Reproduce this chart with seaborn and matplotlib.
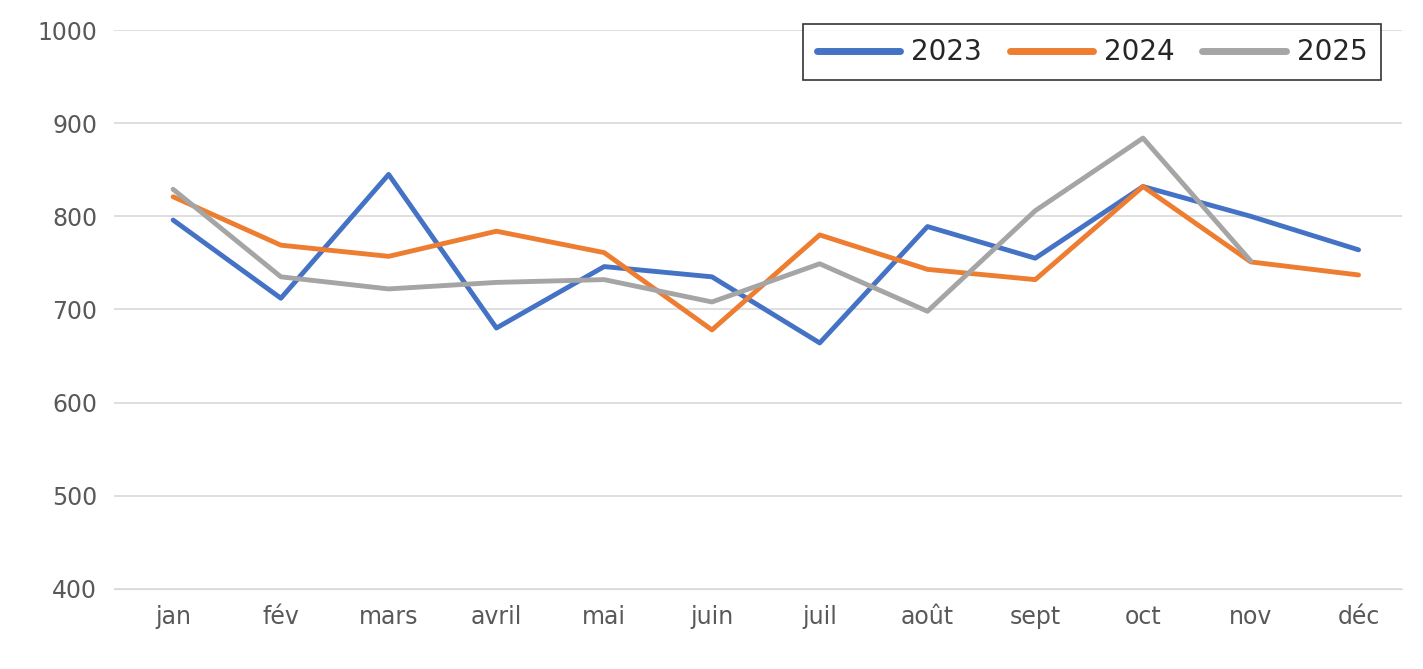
import matplotlib
matplotlib.use("Agg")
import matplotlib.pyplot as plt
import seaborn as sns
import pandas as pd

# ============================================================
# DATA
# ============================================================

months = ["jan", "fév", "mars", "avril", "mai", "juin",
          "juil", "août", "sept", "oct", "nov", "déc"]

v2023 = [796, 712, 845, 680, 746, 735, 664, 789, 755, 832, 800, 764]
v2024 = [821, 769, 757, 784, 761, 678, 780, 743, 732, 832, 751, 737]
v2025 = [829, 735, 722, 729, 732, 708, 749, 698, 806, 884, 752, None]

years = ["2023", "2024", "2025"]
colors = ["#4472C4", "#ED7D31", "#A5A5A5"]

rows = []
for year, vals in zip(years, [v2023, v2024, v2025]):
    for i, v in enumerate(vals):
        if v is not None:
            rows.append({"month": i, "value": v, "year": year})
df = pd.DataFrame(rows)

# ============================================================
# PLOT
# ============================================================

sns.set_style("white")
plt.rcParams["font.family"] = ["DejaVu Sans"]

fig, ax = plt.subplots(figsize=(14.23, 6.69), dpi=100)
fig.subplots_adjust(left=0.08, right=0.985, top=0.955, bottom=0.12)

sns.lineplot(data=df, x="month", y="value", hue="year",
             palette=colors, linewidth=3.5, ax=ax)

ax.set_ylim(400, 1000)
ax.set_yticks(range(400, 1001, 100))
ax.set_xlim(-0.55, 11.4)
ax.set_xticks(range(12))
ax.set_xticklabels(months)
ax.tick_params(axis="both", labelsize=17, colors="#595959", length=0, pad=12)
ax.grid(axis="y", color="#D9D9D9", linewidth=1.2)
ax.set_xlabel("")
ax.set_ylabel("")
for s in ax.spines.values():
    s.set_visible(False)
ax.spines["bottom"].set_visible(True)
ax.spines["bottom"].set_color("#D9D9D9")

leg = ax.legend(loc="upper right", ncol=3, fontsize=20, frameon=True,
                fancybox=False, edgecolor="black", handlelength=3.0,
                handletextpad=0.4, columnspacing=1.0, borderpad=0.5,
                bbox_to_anchor=(0.995, 1.035))
leg.get_frame().set_linewidth(1.2)
for line in leg.get_lines():
    line.set_linewidth(5)

fig.savefig("out.png", dpi=100)
